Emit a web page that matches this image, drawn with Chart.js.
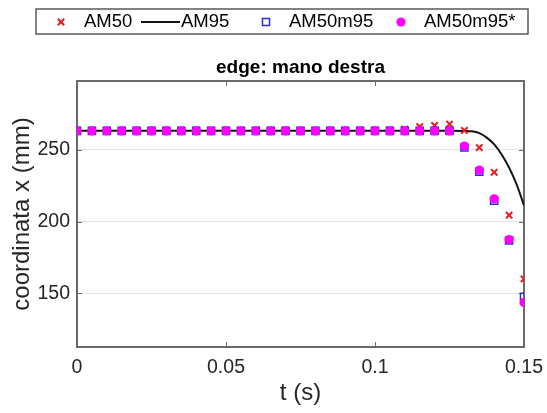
<!DOCTYPE html>
<html>
<head>
<meta charset="utf-8">
<script src="https://cdn.jsdelivr.net/npm/chart.js@4"></script>
<style>
	html, body { margin: 0; padding: 0; background: #fff; }
	#chart { display: block; }
</style>
</head>
<body>
<canvas id="chart" width="547" height="413"></canvas>
<script>
// sample times (s) for the marker series
var tMarks = [0, 0.005, 0.01, 0.015, 0.02, 0.025, 0.03, 0.035, 0.04, 0.045,
	0.05, 0.055, 0.06, 0.065, 0.07, 0.075, 0.08, 0.085, 0.09, 0.095,
	0.1, 0.105, 0.11, 0.115, 0.12, 0.125, 0.13, 0.135, 0.14, 0.145, 0.15];

var am50 = [263.6, 263.6, 263.6, 263.6, 263.6, 263.6, 263.6, 263.6, 263.6, 263.6,
	263.6, 263.6, 263.6, 263.6, 263.6, 263.6, 263.6, 263.6, 263.6, 263.6,
	263.6, 263.9, 264.5, 266.2, 267, 268, 263.5, 251.6, 234.3, 204.4, 160];

var am50m95 = [263.2, 263.2, 263.2, 263.2, 263.2, 263.2, 263.2, 263.2, 263.2, 263.2,
	263.2, 263.2, 263.2, 263.2, 263.2, 263.2, 263.2, 263.2, 263.2, 263.2,
	263.2, 263.2, 263.2, 263.2, 263.2, 263.2, 251.6, 234.8, 214.5, 186.8, 147.6];

var am50m95s = [263.2, 263.2, 263.2, 263.2, 263.2, 263.2, 263.2, 263.2, 263.2, 263.2,
	263.2, 263.2, 263.2, 263.2, 263.2, 263.2, 263.2, 263.2, 263.2, 263.2,
	263.2, 263.2, 263.2, 263.2, 263.2, 263.2, 252.6, 235.8, 215.8, 187.4, 143.6];

// AM95 is a continuous curve
var t95 = [0, 0.05, 0.1, 0.125, 0.13, 0.1325, 0.135, 0.1375, 0.14, 0.1425, 0.145, 0.1475, 0.15];
var am95 = [263.3, 263.3, 263.3, 263.3, 263.2, 262.9, 261.6, 258.5, 253.8, 246.8, 237.6, 226, 211.2];

var xTicks = [0, 0.05, 0.1, 0.15];
var xTickLabels = ['0', '0.05', '0.1', '0.15'];
var yTicks = [150, 200, 250];
var yTickLabels = ['150', '200', '250'];

var seriesNames = ['AM50', 'AM95', 'AM50m95', 'AM50m95*'];
var chartTitle = 'edge: mano destra';

function pairs(xs, ys) {
	return xs.map(function (x, i) { return { x: x, y: ys[i] }; });
}

var FONT = '"Liberation Sans", Arial, Helvetica, sans-serif';
var AXIS_COLOR = '#6a6a6a';
var TEXT_COLOR = '#262626';

var overlay = {
	id: 'overlay',
	beforeDatasetsDraw: function (chart) {
		var ctx = chart.ctx;
		var a = chart.chartArea;
		var xs = chart.scales.x, ys = chart.scales.y;
		ctx.save();
		ctx.strokeStyle = AXIS_COLOR;
		ctx.lineWidth = 1;
		ctx.beginPath();
		xTicks.forEach(function (v) {
			var px = Math.round(xs.getPixelForValue(v)) + 0.5;
			ctx.moveTo(px, a.bottom); ctx.lineTo(px, a.bottom - 5);
			ctx.moveTo(px, a.top); ctx.lineTo(px, a.top + 5);
		});
		yTicks.forEach(function (v) {
			var py = Math.round(ys.getPixelForValue(v)) + 0.5;
			ctx.moveTo(a.left, py); ctx.lineTo(a.left + 5, py);
			ctx.moveTo(a.right, py); ctx.lineTo(a.right - 5, py);
		});
		ctx.stroke();
		ctx.lineWidth = 2;
		ctx.strokeRect(a.left, a.top, a.right - a.left, a.bottom - a.top);
		ctx.restore();
	},
	afterDraw: function (chart) {
		var ctx = chart.ctx;
		var a = chart.chartArea;
		ctx.save();
		// title
		ctx.fillStyle = '#000';
		ctx.font = 'bold 19px ' + FONT;
		ctx.textAlign = 'center';
		ctx.textBaseline = 'middle';
		ctx.fillText(chartTitle, (a.left + a.right) / 2, 68);

		// legend box
		ctx.fillStyle = '#fff';
		ctx.fillRect(36, 9, 492, 25);
		ctx.strokeStyle = '#5a5a5a';
		ctx.lineWidth = 1.5;
		ctx.strokeRect(36, 9, 492, 25);

		var cy = 22;
		var symX = [61, 141, 266, 401];
		var textX = [84, 181, 289, 424];
		chart.data.datasets.forEach(function (ds) {
			var m = ds.legendIdx;
			ctx.strokeStyle = ds.borderColor;
			ctx.fillStyle = ds.backgroundColor;
			if (ds.showLine) {
				ctx.lineWidth = 2;
				ctx.beginPath();
				ctx.moveTo(symX[m], cy);
				ctx.lineTo(symX[m] + 39, cy);
				ctx.stroke();
			} else {
				ctx.lineWidth = ds.borderWidth;
				Chart.helpers.drawPoint(ctx, {
					pointStyle: ds.pointStyle,
					radius: ds.pointRadius,
					rotation: 0,
					borderWidth: ds.borderWidth
				}, symX[m], cy);
			}
			ctx.fillStyle = '#000';
			ctx.font = '18.5px ' + FONT;
			ctx.textAlign = 'left';
			ctx.fillText(ds.label, textX[m], cy);
		});
		ctx.restore();
	}
};

new Chart(document.getElementById('chart'), {
	type: 'scatter',
	data: {
		datasets: [{
			label: seriesNames[3],
			legendIdx: 3,
			data: pairs(tMarks, am50m95s),
			pointStyle: 'circle',
			pointRadius: 4.6,
			borderWidth: 0,
			borderColor: '#ff00ff',
			backgroundColor: '#ff00ff',
			showLine: false,
			order: 0
		}, {
			label: seriesNames[2],
			legendIdx: 2,
			data: pairs(tMarks, am50m95),
			pointStyle: 'rect',
			pointRadius: 5,
			borderWidth: 1.5,
			borderColor: '#2a2ae0',
			backgroundColor: 'rgba(0,0,0,0)',
			showLine: false,
			order: 1
		}, {
			label: seriesNames[0],
			legendIdx: 0,
			data: pairs(tMarks, am50),
			pointStyle: 'crossRot',
			pointRadius: 4.5,
			borderWidth: 2,
			borderColor: '#e8191f',
			backgroundColor: '#e8191f',
			showLine: false,
			order: 2
		}, {
			label: seriesNames[1],
			legendIdx: 1,
			data: pairs(t95, am95),
			showLine: true,
			pointRadius: 0,
			borderWidth: 2,
			borderColor: '#111',
			backgroundColor: '#111',
			cubicInterpolationMode: 'monotone',
			order: 3
		}]
	},
	options: {
		responsive: false,
		animation: false,
		devicePixelRatio: 1,
		layout: { padding: { top: 81, right: 23, bottom: 0, left: 0 } },
		plugins: {
			legend: { display: false },
			title: { display: false },
			tooltip: { enabled: false }
		},
		scales: {
			x: {
				type: 'linear',
				min: 0,
				max: 0.15,
				afterFit: function (scale) {
					scale.height = 66;
					scale.paddingLeft = 0;
					scale.paddingRight = 0;
				},
				afterBuildTicks: function (scale) {
					scale.ticks = xTicks.map(function (v) { return { value: v }; });
				},
				grid: { display: false, drawTicks: false },
				border: { display: false },
				ticks: {
					autoSkip: false,
					maxRotation: 0,
					padding: 9,
					color: TEXT_COLOR,
					font: { family: FONT, size: 19.5 },
					callback: function (v, i) { return xTickLabels[i]; }
				},
				title: {
					display: true,
					text: 't (s)',
					color: TEXT_COLOR,
					font: { family: FONT, size: 24 },
					padding: { top: 0, bottom: 5.5 }
				}
			},
			y: {
				type: 'linear',
				min: 112.5,
				max: 298,
				afterFit: function (scale) {
					scale.width = 77;
					scale.paddingTop = 0;
					scale.paddingBottom = 0;
				},
				afterBuildTicks: function (scale) {
					scale.ticks = yTicks.map(function (v) { return { value: v }; });
				},
				grid: { color: '#e3e3e3', lineWidth: 1, drawTicks: false },
				border: { display: false },
				ticks: {
					padding: 7,
					color: TEXT_COLOR,
					font: { family: FONT, size: 19.5 },
					callback: function (v, i) { return yTickLabels[i]; }
				},
				title: {
					display: true,
					text: 'coordinata x (mm)',
					color: TEXT_COLOR,
					font: { family: FONT, size: 24 },
					padding: { top: 7.5, bottom: 0 }
				}
			}
		}
	},
	plugins: [overlay]
});
</script>
</body>
</html>
